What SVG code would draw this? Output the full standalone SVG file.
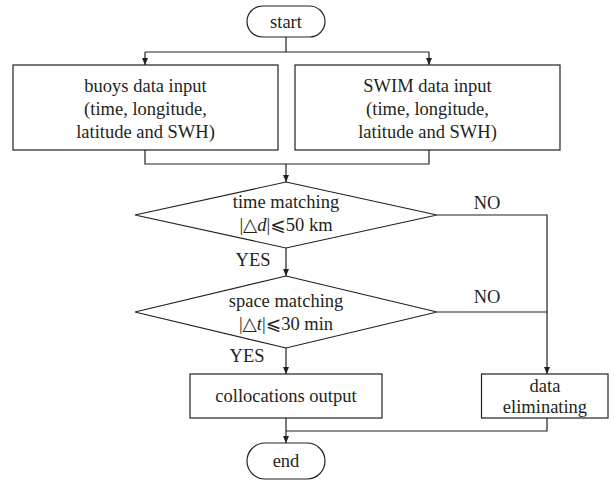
<svg xmlns="http://www.w3.org/2000/svg" width="616" height="483" viewBox="0 0 616 483">
<style>
.s{fill:#fff;stroke:#231f20;stroke-width:1.2}
.c{fill:none;stroke:#231f20;stroke-width:1.2}
svg text, svg tspan{font-family:'Liberation Serif','DejaVu Sans',serif;font-size:18.5px;fill:#231f20;text-anchor:middle}
</style>
<defs>
<marker id="a" markerWidth="8" markerHeight="8" refX="7" refY="4" orient="auto" markerUnits="userSpaceOnUse">
<path d="M0,1 L7,4 L0,7 Z" fill="#231f20"/>
</marker>
</defs>
<g id="connectors">
<path class="c" d="M286,37 V52 M145,52 H429" />
<path class="c" d="M145,52 V65" marker-end="url(#a)"/>
<path class="c" d="M429,52 V65" marker-end="url(#a)"/>
<path class="c" d="M145,150 V164 H429 V150"/>
<path class="c" d="M286,164 V182" marker-end="url(#a)"/>
<path class="c" d="M286,248 V276" marker-end="url(#a)"/>
<path class="c" d="M437,215 H547 V374" marker-end="url(#a)"/>
<path class="c" d="M437,312 H547"/>
<path class="c" d="M286,348 V374" marker-end="url(#a)"/>
<path class="c" d="M286,418 V443" marker-end="url(#a)"/>
<path class="c" d="M547,418 V431 H286"/>
</g>
<g id="start">
<rect class="s" x="247" y="6" width="78" height="31" rx="15.5"/>
<text x="286" y="28" font-family="Liberation Serif">start</text>
</g>
<g id="buoys">
<rect class="s" x="13" y="65" width="265" height="85"/>
<text x="145.5" y="92" font-family="Liberation Serif">buoys data input</text>
<text x="145.5" y="115" font-family="Liberation Serif">(time, longitude,</text>
<text x="145.5" y="138" font-family="Liberation Serif">latitude and SWH)</text>
</g>
<g id="swim">
<rect class="s" x="295" y="65" width="265" height="85"/>
<text x="427.5" y="92" font-family="Liberation Serif">SWIM data input</text>
<text x="427.5" y="115" font-family="Liberation Serif">(time, longitude,</text>
<text x="427.5" y="138" font-family="Liberation Serif">latitude and SWH)</text>
</g>
<g id="time">
<path class="s" d="M286,182 L437,215 L286,248 L135,215 Z"/>
<text x="286" y="208" font-family="Liberation Serif">time matching</text>
<text x="286" y="231" font-family="Liberation Serif">|△<tspan font-style="italic">d</tspan>|⩽50 km</text>
</g>
<g id="space">
<path class="s" d="M286,276 L437,312 L286,348 L135,312 Z"/>
<text x="286" y="307" font-family="Liberation Serif">space matching</text>
<text x="286" y="330" font-family="Liberation Serif">|△<tspan font-style="italic">t</tspan>|⩽30 min</text>
</g>
<g id="labels">
<text x="487" y="209" font-family="Liberation Serif">NO</text>
<text x="487" y="303" font-family="Liberation Serif">NO</text>
<text x="253" y="266" font-family="Liberation Serif">YES</text>
<text x="247" y="362" font-family="Liberation Serif">YES</text>
</g>
<g id="collocations">
<rect class="s" x="190" y="374" width="192" height="44"/>
<text x="286" y="402" font-family="Liberation Serif">collocations output</text>
</g>
<g id="eliminating">
<rect class="s" x="481.5" y="374" width="126.5" height="44"/>
<text x="545" y="392" font-family="Liberation Serif">data</text>
<text x="545" y="413" font-family="Liberation Serif">eliminating</text>
</g>
<g id="end">
<rect class="s" x="247" y="443" width="78" height="36" rx="18"/>
<text x="286" y="467" font-family="Liberation Serif">end</text>
</g>
</svg>
